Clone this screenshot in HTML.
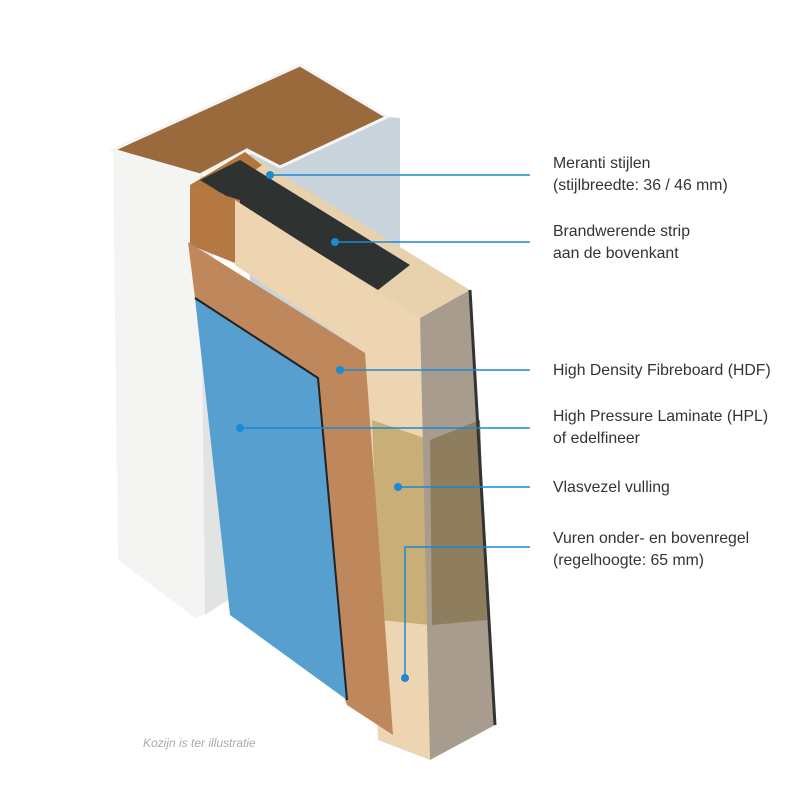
<!DOCTYPE html>
<html><head><meta charset="utf-8"><style>
html,body{margin:0;padding:0;background:#fff;}
svg{display:block}
</style></head><body>
<svg width="800" height="800" viewBox="0 0 800 800" xmlns="http://www.w3.org/2000/svg">
<!-- frame -->
<polygon points="250,150 387,117 400,118 400,600 250,600" fill="#c9d3dc"/>
<polygon points="113,150 200,175 205,615 195,618 118,560" fill="#f4f4f2"/>
<polygon points="200,175 210,178 228,600 205,615" fill="#e2e4e4"/>
<polygon points="113,150 300,65 307,68 387,117 280,167 247,150 200,175" fill="#9a6a3c"/>
<polygon points="113,150 300,65 387,117 280,167 247,150 200,175" fill="none" stroke="#f5f5f5" stroke-width="3"/>
<!-- door top face -->
<polygon points="190,185 245,152 470,290 420,318" fill="#e8d2ad"/>
<polygon points="190,185 245,152 262,165 215,200" fill="#b2763e"/>
<polygon points="200,180 240,160 410,265 378,290" fill="#2e3230"/>
<!-- left stile side -->
<polygon points="190,185 240,200 240,265 190,245" fill="#b67842"/>
<!-- light stile front -->
<polygon points="235,200 420,318 430,760 378,740 365,353 235,265" fill="#ecd5b0"/>
<!-- chipboard on stile -->
<polygon points="372,420 430,440 430,625 380,620" fill="#c9ae78"/>
<!-- door edge -->
<polygon points="420,318 470,290 495,725 430,760" fill="#a79c8d"/>
<polygon points="430,440 480,420 487,620 432,625" fill="#8f7e5e"/>
<line x1="470" y1="290" x2="495" y2="725" stroke="#333" stroke-width="3"/>
<!-- HDF -->
<polygon points="188,242 365,353 393,735 347,705 195,298" fill="#bf875c"/>
<!-- blue -->
<polygon points="195,298 318,378 347,700 230,615" fill="#579fcf"/>
<polyline points="195,298 318,378 347,700" fill="none" stroke="#222" stroke-width="2"/>
<!-- connectors -->
<g stroke="#1a8ad4" stroke-width="1.5" fill="none">
<line x1="270" y1="175" x2="530" y2="175"/>
<line x1="335" y1="242" x2="530" y2="242"/>
<line x1="340" y1="370" x2="530" y2="370"/>
<line x1="240" y1="428" x2="530" y2="428"/>
<line x1="398" y1="487" x2="530" y2="487"/>
<polyline points="405,678 405,547 530,547"/>
</g>
<g fill="#1a8ad4">
<circle cx="270" cy="175" r="4"/><circle cx="335" cy="242" r="4"/><circle cx="340" cy="370" r="4"/>
<circle cx="240" cy="428" r="4"/><circle cx="398" cy="487" r="4"/><circle cx="405" cy="678" r="4"/>
</g>
<g font-family="Liberation Sans, sans-serif" font-size="15.8" fill="#333">
<text x="553" y="168">Meranti stijlen</text>
<text x="553" y="190">(stijlbreedte: 36 / 46 mm)</text>
<text x="553" y="236">Brandwerende strip</text>
<text x="553" y="258">aan de bovenkant</text>
<text x="553" y="375">High Density Fibreboard (HDF)</text>
<text x="553" y="421">High Pressure Laminate (HPL)</text>
<text x="553" y="443">of edelfineer</text>
<text x="553" y="492">Vlasvezel vulling</text>
<text x="553" y="543">Vuren onder- en bovenregel</text>
<text x="553" y="565">(regelhoogte: 65 mm)</text>
</g>
<text x="143" y="747" font-family="Liberation Sans, sans-serif" font-size="12" font-style="italic" fill="#aaa">Kozijn is ter illustratie</text>
</svg>
</body></html>
